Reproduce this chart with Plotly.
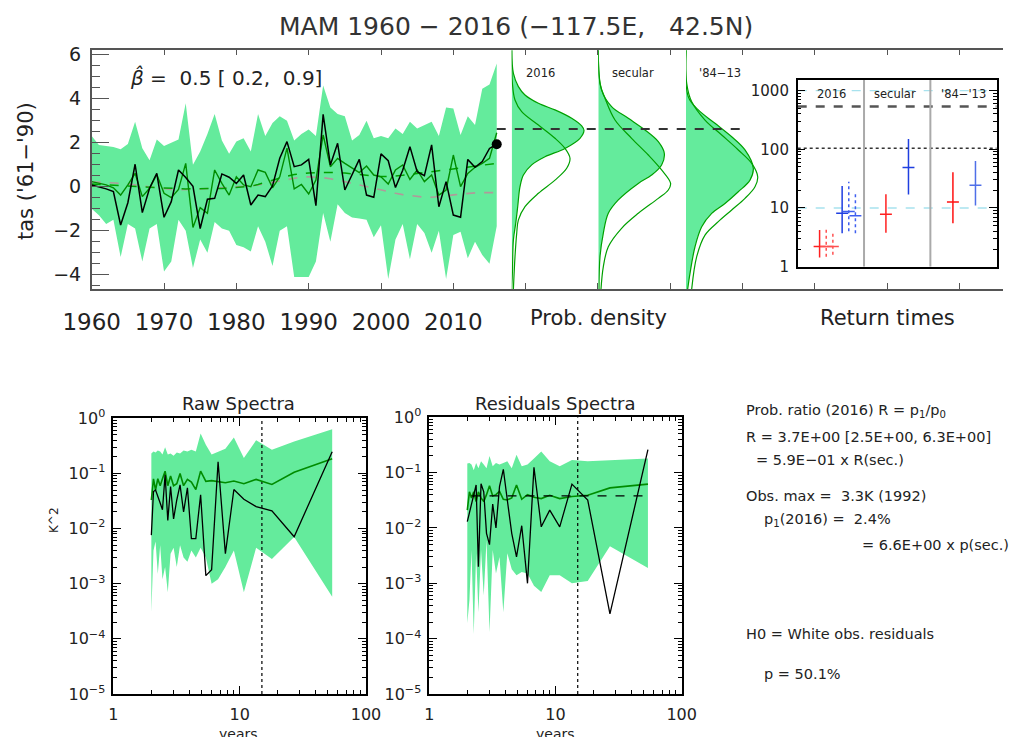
import plotly.graph_objects as go

# page has an 8px body margin: figure is sized to fit the remaining window
OFF = 8
W, H = 1019 - OFF, 737 - OFF
def fx(p): return (p - OFF) / W
def fy(p): return 1 - (p - OFF) / H

FONT = "DejaVu Sans"
BAND = "#64EB9C"
DKGREEN = "#008C00"
AX = "#555555"

# ---------------- time series data ----------------
years = list(range(1960, 2017))
obs = [0.08, 0.0, -0.1, -0.22, -1.74, -0.73, 1.02, -1.18, -0.07, 0.61,
       -1.39, -0.68, 0.76, 0.42, 0.02, -1.9, -0.57, -0.53, 0.58, 0.43,
       0.15, 0.53, -0.83, -0.38, -0.45, 0.03, 1.29, 2.05, 0.91, 0.99,
       1.24, -0.86, 3.29, 0.99, 1.97, -0.15, 0.53, 1.24, -0.38, -0.48,
       1.49, 1.18, -0.04, 0.75, 1.82, 0.68, 0.5, 1.9, -0.91, 0.23,
       -1.29, -1.39, 1.24, 0.88, 1.14, 1.74, 1.93]
model = [0.23, 0.15, 0.08, -0.05, -0.38, 0.08, 0.61, -0.45, -0.07, 0.56,
         -0.3, -0.5, -0.12, 1.06, -1.85, -0.95, -1.21, 0.76, 0.15, -0.38,
         0.45, 0.08, 0.0, 0.76, 0.65, -0.05, 0.45, 1.75, -0.1, 0.1,
         -0.33, 0.3, 2.35, 0.91, 1.29, 1.06, 0.84, 0.64, 0.94, 0.53,
         0.45, 0.12, 0.76, 0.99, 0.33, 0.76, 0.23, 0.53, -0.38, -0.15,
         1.44, 0.0, 0.6, 0.88, 1.06, 1.29, 2.45]
fit_trend = [0.12, 0.1, 0.08, 0.06, 0.04, 0.02, 0.0, -0.02, -0.04, -0.06,
             -0.07, -0.08, -0.09, -0.1, -0.1, -0.1, -0.1, -0.09, -0.08, -0.06,
             -0.04, -0.02, 0.02, 0.1, 0.2, 0.3, 0.4, 0.48, 0.55, 0.6,
             0.62, 0.64, 0.65, 0.65, 0.64, 0.62, 0.59, 0.55, 0.51, 0.48,
             0.46, 0.46, 0.48, 0.52, 0.56, 0.6, 0.65, 0.7, 0.74, 0.78,
             0.82, 0.86, 0.9, 0.94, 0.98, 1.02, 1.06]
nat_trend = [0.22, 0.21, 0.2, 0.18, 0.15, 0.12, 0.08, 0.03, -0.02, -0.07,
             -0.11, -0.13, -0.14, -0.14, -0.12, -0.1, -0.08, -0.06, -0.04, -0.03,
             -0.02, 0.0, 0.03, 0.08, 0.14, 0.2, 0.28, 0.35, 0.4, 0.44,
             0.45, 0.44, 0.41, 0.36, 0.3, 0.23, 0.16, 0.08, 0.0, -0.08,
             -0.16, -0.24, -0.3, -0.36, -0.41, -0.45, -0.48, -0.48, -0.46, -0.42,
             -0.37, -0.33, -0.3, -0.28, -0.27, -0.27, -0.27]
band_hi = [2.3, 1.9, 1.85, 1.8, 1.7, 1.94, 2.95, 1.75, 1.2, 2.15,
           1.85, 2.0, 2.15, 3.79, 1.0, 1.6, 2.4, 3.3, 2.1, 1.5,
           2.05, 2.2, 1.6, 3.3, 2.3, 2.9, 3.2, 3.0, 2.1, 2.4,
           2.6, 2.3, 4.6, 3.6, 3.3, 3.2, 2.1, 2.35, 3.0, 2.2,
           2.3, 2.2, 2.65, 2.4, 2.95, 2.65, 2.8, 2.95, 2.3, 3.6,
           3.55, 2.35, 3.2, 2.8, 4.45, 4.65, 5.6]
band_lo = [-1.0, -1.3, -1.7, -1.5, -3.2, -1.7, -1.9, -3.4, -1.9, -1.7,
           -3.85, -3.4, -1.5, -2.0, -3.7, -2.4, -3.0, -1.6, -1.9, -2.0,
           -2.65, -2.75, -2.95, -1.8, -2.5, -3.6, -2.0, -1.8, -4.1, -4.1,
           -4.1, -3.4, -1.2, -2.5, -0.8, -1.2, -1.4, -1.45, -1.5, -2.3,
           -1.75, -4.2, -2.4, -1.7, -3.3, -1.7, -2.1, -3.0, -2.0, -4.2,
           -2.2, -2.05, -3.25, -2.5, -3.1, -3.5, -1.8]
threshold = 2.62
threshold_span = (2016, 2050)
beta_text = "<i>β\u0302</i> =\u00a0\u00a00.5 [\u00a00.2,\u00a0\u00a00.9]"

# ---------------- densities (temperature, density) ----------------
dens = {
    "2016": dict(
        ft=[6.2, 5.15, 4.55, 4.17, 3.79, 3.49, 3.11, 2.76, 2.55, 2.2, 1.74, 1.36, 0.99, 0.53, 0.0, -0.91, -1.67, -2.42, -3.9, -4.65],
        fd=[0, 0.017, 0.067, 0.133, 0.267, 0.433, 0.60, 0.70, 0.723, 0.683, 0.533, 0.333, 0.20, 0.117, 0.083, 0.06, 0.04, 0.017, 0.007, 0.0],
        lt=[6.2, 4.7, 3.94, 3.41, 2.8, 2.2, 1.74, 1.29, 0.84, 0.3, -0.3, -0.91, -1.51, -2.12, -3.18, -4.65],
        ld=[0, 0.007, 0.033, 0.10, 0.267, 0.433, 0.533, 0.583, 0.55, 0.433, 0.267, 0.133, 0.067, 0.05, 0.033, 0.017]),
    "secular": dict(
        ft=[6.2, 4.39, 3.64, 3.11, 2.58, 2.05, 1.52, 0.99, 0.53, 0.15, -0.6, -1.21, -2.12, -3.18, -4.65],
        fd=[0, 0.033, 0.133, 0.30, 0.467, 0.60, 0.66, 0.633, 0.533, 0.40, 0.20, 0.10, 0.05, 0.017, 0.007],
        lt=[6.2, 4.7, 4.02, 3.03, 2.2, 1.44, 0.76, 0.15, -0.15, -0.53, -1.21, -1.89, -2.73, -3.64, -4.65],
        ld=[0, 0.017, 0.067, 0.167, 0.333, 0.50, 0.633, 0.723, 0.70, 0.60, 0.40, 0.233, 0.10, 0.05, 0.027]),
    "'84\u221213": dict(
        ft=[6.2, 4.09, 3.49, 2.88, 2.27, 1.67, 0.84, 0.3, -0.23, -0.76, -1.21, -1.82, -2.73, -3.94, -4.65],
        fd=[0, 0.023, 0.123, 0.29, 0.457, 0.59, 0.673, 0.64, 0.523, 0.39, 0.257, 0.157, 0.09, 0.04, 0.017],
        lt=[6.2, 4.7, 3.86, 3.03, 2.35, 1.67, 1.06, 0.45, 0.0, -0.53, -1.06, -1.59, -2.2, -3.18, -4.65],
        ld=[0, 0.007, 0.057, 0.19, 0.357, 0.523, 0.657, 0.717, 0.69, 0.59, 0.457, 0.323, 0.19, 0.107, 0.057]),
}

# ---------------- return times ----------------
rt_labels = ["2016", "secular", "'84\u2212'13"]
rt_x = [0.33, 0.43, 0.53, 0.67, 0.77, 0.87, 1.33, 1.67, 2.34, 2.68]
rt_best = [2.2, 2.2, 2.2, 8.1, 8.7, 7.4, 7.8, 48.7, 12.6, 24.5]
rt_lo = [1.43, 1.48, 1.6, 3.7, 4.0, 3.7, 3.8, 16.9, 5.5, 11.0]
rt_hi = [4.2, 4.4, 3.8, 23.8, 28.0, 19.0, 17.2, 150.0, 40.7, 63.0]
rt_col = ["#FF2020", "#FF5050", "#FF5050", "#1F3FE0", "#3F5FF0", "#3F5FF0",
          "#FF2020", "#1F3FE0", "#FF1010", "#4F6FE8"]
rt_dash = ["solid", "dot", "dot", "solid", "dot", "dot", "solid", "solid", "solid", "solid"]
rt_cyan_levels = [10, 1000]
rt_dashed_level = 533
rt_dotted_level = 104

# ---------------- spectra ----------------
periods = [54, 27, 18, 13.5, 10.8, 9, 7.71, 6.75, 6, 5.4, 4.91, 4.5, 4.15, 3.86,
           3.6, 3.375, 3.18, 3.0, 2.84, 2.7, 2.57, 2.45, 2.35, 2.25, 2.16, 2.08, 2.0]
raw_obs = [0.248, 0.0071, 0.021, 0.025, 0.034, 0.051, 0.0035, 0.163, 0.0018, 0.0014,
           0.041, 0.0066, 0.0066, 0.055, 0.020, 0.062, 0.033, 0.015, 0.058, 0.014,
           0.094, 0.022, 0.029, 0.038, 0.050, 0.047, 0.0076]
raw_model = [0.185, 0.105, 0.063, 0.078, 0.065, 0.073, 0.068, 0.072, 0.074, 0.072,
             0.11, 0.051, 0.07, 0.078, 0.06, 0.1, 0.065, 0.06, 0.09, 0.06,
             0.11, 0.08, 0.06, 0.08, 0.05, 0.08, 0.033]
raw_hi = [0.63, 0.38, 0.27, 0.40, 0.19, 0.45, 0.28, 0.25, 0.22, 0.33,
          0.53, 0.25, 0.27, 0.25, 0.26, 0.23, 0.24, 0.21, 0.23, 0.22,
          0.30, 0.22, 0.25, 0.26, 0.24, 0.25, 0.23]
raw_lo = [5.8e-4, 0.007, 0.0028, 0.0045, 0.0007, 0.004, 0.002, 0.0012, 0.001, 0.003,
          0.0045, 0.003, 0.004, 0.0025, 0.003, 0.005, 0.002, 0.0045, 0.0035, 0.0007,
          0.002, 0.0012, 0.005, 0.0015, 0.0058, 0.004, 0.0003]
res_obs = [0.26, 2.8e-4, 0.032, 0.062, 0.0105, 0.021, 0.0105, 0.125, 0.001, 0.011,
           0.003, 0.008, 0.032, 0.115, 0.056, 0.01, 0.027, 0.005, 0.008, 0.045,
           0.063, 0.002, 0.06, 0.04, 0.025, 0.018, 0.013]
res_model = [0.062, 0.053, 0.039, 0.037, 0.034, 0.039, 0.034, 0.036, 0.04, 0.033,
             0.06, 0.035, 0.032, 0.033, 0.046, 0.04, 0.038, 0.058, 0.04, 0.03,
             0.035, 0.045, 0.03, 0.045, 0.035, 0.045, 0.021]
res_hi = [0.18, 0.17, 0.16, 0.17, 0.13, 0.16, 0.24, 0.18, 0.14, 0.13,
          0.21, 0.12, 0.16, 0.15, 0.14, 0.15, 0.13, 0.2, 0.12, 0.14,
          0.16, 0.12, 0.15, 0.11, 0.14, 0.15, 0.147]
res_lo = [0.0019, 0.0047, 0.0011, 0.001, 0.0014, 0.0014, 0.0007, 0.0009, 0.0015, 0.0016,
          0.0014, 0.0018, 0.0035, 0.0003, 0.003, 0.0015, 0.004, 0.00013, 0.006, 0.0006,
          0.004, 0.0003, 0.0035, 0.00012, 0.004, 0.0005, 0.00019]
white_level = 0.038
white_span = (2.16, 54)
cutoff_period = 15

text_lines = [
    (744, 411, "Prob. ratio (2016) R = p<sub>1</sub>/p<sub>0</sub>"),
    (744, 437, "R = 3.7E+00 [2.5E+00, 6.3E+00]"),
    (754, 460, "= 5.9E\u221201 x R(sec.)"),
    (744, 496, "Obs. max =\u00a0\u00a03.3K (1992)"),
    (762, 520, "p<sub>1</sub>(2016) =\u00a0\u00a02.4%"),
    (860, 545, "= 6.6E+00 x p(sec.)"),
    (744, 634, "H0 = White obs. residuals"),
    (762, 674, "p = 50.1%"),
]

fig = go.Figure()

# ---- time series ----
fig.add_trace(go.Scatter(x=years, y=band_lo, mode="lines", line=dict(width=0),
                         showlegend=False, hoverinfo="skip", xaxis="x", yaxis="y"))
fig.add_trace(go.Scatter(x=years, y=band_hi, mode="lines", line=dict(width=0),
                         fill="tonexty", fillcolor=BAND, showlegend=False, xaxis="x", yaxis="y"))
fig.add_trace(go.Scatter(x=years, y=nat_trend, mode="lines",
                         line=dict(color="#B09A9A", width=1.6, dash="dash"), showlegend=False))
fig.add_trace(go.Scatter(x=years, y=fit_trend, mode="lines",
                         line=dict(color="#00A000", width=1.5, dash="dash"), showlegend=False))
fig.add_trace(go.Scatter(x=years, y=model, mode="lines",
                         line=dict(color=DKGREEN, width=1.4), showlegend=False))
fig.add_trace(go.Scatter(x=years, y=obs, mode="lines",
                         line=dict(color="black", width=1.5), showlegend=False))
fig.add_trace(go.Scatter(x=[years[-1]], y=[obs[-1]], mode="markers",
                         marker=dict(color="black", size=10), showlegend=False))

# ---- densities ----
for i, (name, d) in enumerate(dens.items()):
    xa = "x%d" % (i + 2)
    fig.add_trace(go.Scatter(x=d["fd"], y=d["ft"], mode="lines", line=dict(color="#00A000", width=1.2, shape="spline"),
                             fill="tozerox", fillcolor=BAND, showlegend=False, xaxis=xa, yaxis="y"))
    fig.add_trace(go.Scatter(x=d["ld"], y=d["lt"], mode="lines", line=dict(color="#00A000", width=1.2, shape="spline"),
                             showlegend=False, xaxis=xa, yaxis="y"))

# ---- return times ----
for lev in rt_cyan_levels:
    fig.add_trace(go.Scatter(x=[0, 3], y=[lev, lev], mode="lines", line=dict(color="#A8E2EE", width=1.3, dash="dash"),
                             showlegend=False, xaxis="x5", yaxis="y5"))
fig.add_trace(go.Scatter(x=[0, 3], y=[rt_dashed_level] * 2, mode="lines", line=dict(color="#555555", width=2.5, dash="dash"),
                         showlegend=False, xaxis="x5", yaxis="y5"))
fig.add_trace(go.Scatter(x=[0, 3], y=[rt_dotted_level] * 2, mode="lines", line=dict(color="#333333", width=1.6, dash="dot"),
                         showlegend=False, xaxis="x5", yaxis="y5"))
for sep in [1, 2]:
    fig.add_trace(go.Scatter(x=[sep, sep], y=[1, 10 ** 3.18], mode="lines", line=dict(color="#AAAAAA", width=2),
                             showlegend=False, xaxis="x5", yaxis="y5"))
for xv, b, lo, hi, c, ds in zip(rt_x, rt_best, rt_lo, rt_hi, rt_col, rt_dash):
    fig.add_trace(go.Scatter(x=[xv, xv], y=[lo, hi], mode="lines", line=dict(color=c, width=1.5, dash=ds),
                             showlegend=False, xaxis="x5", yaxis="y5"))
    fig.add_trace(go.Scatter(x=[xv - 0.09, xv + 0.09], y=[b, b], mode="lines", line=dict(color=c, width=1.5),
                             showlegend=False, xaxis="x5", yaxis="y5"))

# ---- spectra ----
def spectra(xa, ya, lo, hi, mod, ob):
    fig.add_trace(go.Scatter(x=periods, y=lo, mode="lines", line=dict(width=0), showlegend=False, xaxis=xa, yaxis=ya))
    fig.add_trace(go.Scatter(x=periods, y=hi, mode="lines", line=dict(width=0), fill="tonexty", fillcolor=BAND,
                             showlegend=False, xaxis=xa, yaxis=ya))
    fig.add_trace(go.Scatter(x=[cutoff_period] * 2, y=[1e-5, 1], mode="lines", line=dict(color="black", width=1.2, dash="dot"),
                             showlegend=False, xaxis=xa, yaxis=ya))
    fig.add_trace(go.Scatter(x=periods, y=mod, mode="lines", line=dict(color=DKGREEN, width=1.6), showlegend=False, xaxis=xa, yaxis=ya))
    fig.add_trace(go.Scatter(x=periods, y=ob, mode="lines", line=dict(color="black", width=1.3), showlegend=False, xaxis=xa, yaxis=ya))

spectra("x6", "y6", raw_lo, raw_hi, raw_model, raw_obs)
spectra("x7", "y7", res_lo, res_hi, res_model, res_obs)
fig.add_trace(go.Scatter(x=list(white_span), y=[white_level] * 2, mode="lines", line=dict(color="black", width=1.3, dash="dash"),
                         showlegend=False, xaxis="x7", yaxis="y7"))

# threshold line (above density fills)
fig.add_shape(type="line", xref="x", yref="y", x0=threshold_span[0], x1=threshold_span[1], y0=threshold, y1=threshold,
              line=dict(color="#333333", width=2, dash="dash"), layer="above")

# ---------------- layout ----------------
log_minor = [m * 10 ** e for e in range(-5, 3) for m in range(2, 10)]
spec_yticks = [1e-5, 1e-4, 1e-3, 1e-2, 1e-1, 1]
spec_yticktext = ["10<sup>\u22125</sup>", "10<sup>\u22124</sup>", "10<sup>\u22123</sup>",
                  "10<sup>\u22122</sup>", "10<sup>\u22121</sup>", "10<sup>0</sup>"]

main_ticks = list(range(1960, 2090, 10))
main_ticktext = [str(t) if t <= 2010 else "" for t in main_ticks]

common_ax = dict(showgrid=False, zeroline=False, showline=True, linecolor=AX, linewidth=1.5, automargin=False,
                 tickcolor=AX, tickfont=dict(family=FONT, color="#222"))

def spec_axes(xd, yd, xa, ya):
    xax = dict(common_ax, type="log", domain=xd, range=[0, 2], anchor=ya, mirror="allticks", ticks="inside",
               ticklen=8, tickvals=[1, 10, 100], ticktext=["1", "10", "100"], linecolor="black", tickcolor="black",
               minor=dict(tickvals=log_minor, ticks="inside", ticklen=4, tickcolor="black"),
               tickfont=dict(family=FONT, size=16, color="#222"), ticklabelstandoff=5)
    yax = dict(common_ax, type="log", domain=yd, range=[-5, 0], anchor=xa, mirror="allticks", ticks="inside",
               ticklen=8, tickvals=spec_yticks, ticktext=spec_yticktext, linecolor="black", tickcolor="black",
               minor=dict(tickvals=log_minor, ticks="inside", ticklen=4, tickcolor="black"),
               tickfont=dict(family=FONT, size=16, color="#222"), ticklabelstandoff=3)
    return xax, yax

x6, y6 = spec_axes([fx(113.3), fx(366)], [fy(694), fy(418.3)], "x6", "y6")
x7, y7 = spec_axes([fx(429.3), fx(681.7)], [fy(694), fy(417.3)], "x7", "y7")

dens_domains = [[fx(511.7), fx(598.3)], [fx(598.3), fx(686)], [fx(686), fx(772)]]
dens_axes = {}
for i, dd in enumerate(dens_domains):
    dens_axes["xaxis%d" % (i + 2)] = dict(domain=dd, range=[0, (dd[1] - dd[0]) * W / 100], anchor="y",
                                          visible=False, showgrid=False, zeroline=False, automargin=False)

fig.update_layout(
    width=W, height=H, margin=dict(l=0, r=0, t=0, b=0, pad=0, autoexpand=False),
    paper_bgcolor="white", plot_bgcolor="rgba(0,0,0,0)", showlegend=False,
    font=dict(family=FONT, color="#222"),
    xaxis=dict(common_ax, domain=[fx(91.7), fx(1003)], range=[1960, 2086], anchor="y", mirror="ticks",
               ticks="inside", ticklen=6, tickvals=main_ticks, ticktext=main_ticktext,
               tickfont=dict(family=FONT, size=23, color="#222"), ticklabelstandoff=12),
    yaxis=dict(common_ax, domain=[fy(289), fy(49.5)], range=[-4.65, 6.236], anchor="x",
               ticks="inside", ticklen=18, tick0=0, dtick=2,
               minor=dict(ticks="inside", ticklen=9, dtick=0.5, tickcolor=AX),
               tickfont=dict(family=FONT, size=19, color="#222"), ticklabelstandoff=5),
    xaxis5=dict(common_ax, domain=[fx(797.7), fx(996.7)], range=[0, 3], anchor="y5", mirror=True,
                ticks="", showticklabels=False, linecolor="black"),
    yaxis5=dict(common_ax, type="log", domain=[fy(266.7), fy(80)], range=[0, 3.18], anchor="x5",
                mirror="allticks", ticks="inside", ticklen=8, linecolor="black", tickcolor="black",
                tickvals=[1, 10, 100, 1000], ticktext=["1", "10", "100", "1000"],
                minor=dict(tickvals=log_minor, ticks="inside", ticklen=4, tickcolor="black"),
                tickfont=dict(family=FONT, size=15, color="#222"), ticklabelstandoff=4),
    xaxis6=x6, yaxis6=y6, xaxis7=x7, yaxis7=y7,
    **dens_axes,
)

ann = []
def A(px, py, text, size, **kw):
    d = dict(x=fx(px), y=fy(py), xref="paper", yref="paper", text=text, showarrow=False,
             font=dict(family=FONT, size=size, color=kw.pop("color", "#222")), xanchor=kw.pop("xanchor", "center"),
             yanchor=kw.pop("yanchor", "middle"))
    d.update(kw)
    ann.append(d)

A(516, 26, "MAM 1960 \u2212 2016 (\u2212117.5E,\u00a0\u00a0\u00a042.5N)", 25, color="#333")
A(128, 78, beta_text, 20, xanchor="left")
A(26, 171, "tas ('61\u2212'90)", 21, textangle=-90)
A(598, 318, "Prob. density", 21)
A(887, 318, "Return times", 21)
for cx, name in zip([540, 633, 720], dens.keys()):
    A(cx, 73, name, 11.5)
for cx, name in zip([831, 895, 963], rt_labels):
    A(cx, 94, name, 11.5)
A(238, 403, "Raw Spectra", 18)
A(555, 403, "Residuals Spectra", 18)
A(238, 724, "years", 14, yanchor="top")
A(555, 724, "years", 14, yanchor="top")
A(54, 520, "K^2", 12, textangle=-90)
for px, py, t in text_lines:
    A(px, py, t, 14.5, xanchor="left")

fig.update_layout(annotations=ann)
fig.write_html("out.html")
